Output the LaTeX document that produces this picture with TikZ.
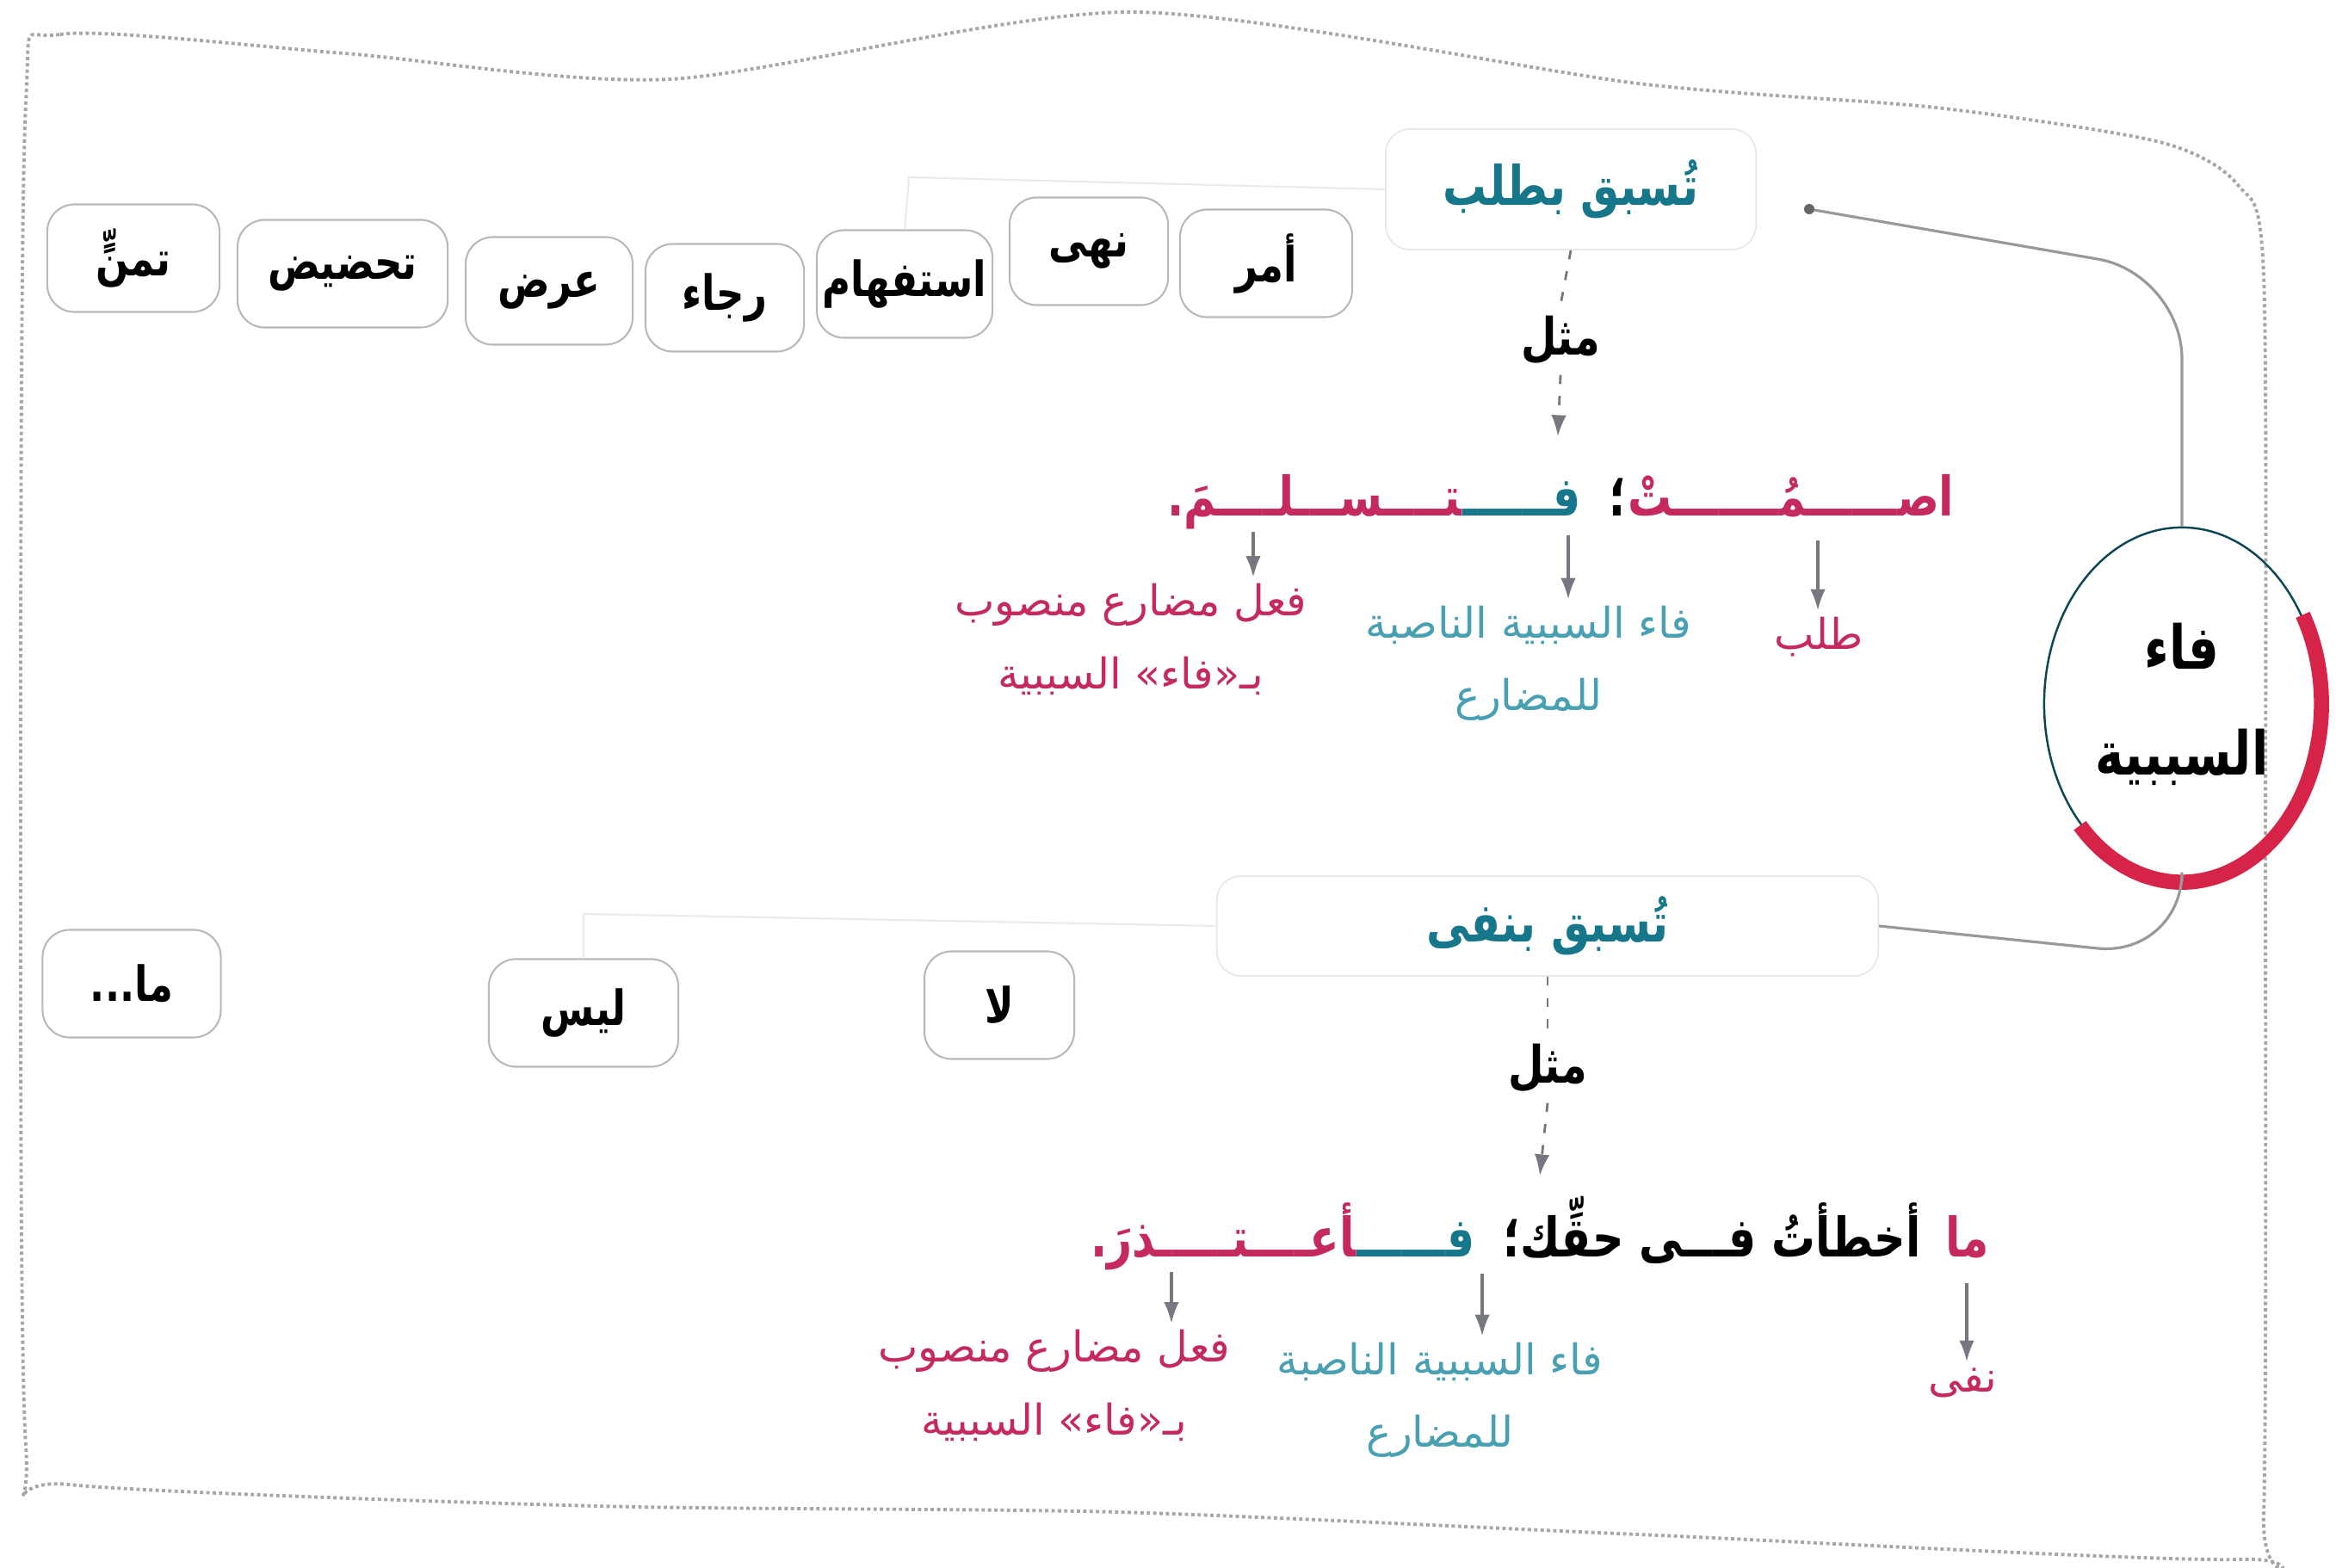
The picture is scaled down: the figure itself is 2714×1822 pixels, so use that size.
\documentclass[tikz,border=0pt]{standalone}
\usepackage{graphicx}
\usepackage{fontspec}
\usetikzlibrary{arrows.meta,shapes.geometric}
\newfontfamily\arabicfont[Script=Arabic]{DejaVu Sans}
\TeXXeTstate=1

\definecolor{tealA}{RGB}{22,118,138}
\definecolor{tealB}{RGB}{72,160,178}
\definecolor{rose}{RGB}{196,42,96}
\definecolor{redband}{RGB}{214,36,72}
\definecolor{arrgray}{RGB}{118,120,128}

% narrow arabic lettering
\newcommand\squeeze[1]{\scalebox{0.8}[1]{#1}}

\tikzset{
  item/.style={draw=gray!55,line width=0.6pt,rounded corners=9pt,minimum height=1.25cm,inner sep=0pt,
    font=\arabicfont\bfseries\fontsize{16}{18}\selectfont},
  head/.style={draw=gray!18,line width=0.5pt,rounded corners=8pt,text=tealA,
    font=\arabicfont\bfseries\fontsize{18}{20}\selectfont},
  mthl/.style={font=\arabicfont\bfseries\fontsize{17}{20}\selectfont},
  sent/.style={inner sep=0pt,anchor=base east,font=\arabicfont\bfseries\fontsize{18}{22}\selectfont},
  lbl/.style={align=center,inner sep=2pt,font=\arabicfont\fontsize{14}{24}\selectfont},
  arr/.style={arrgray,line width=0.9pt,-{Latex[length=7pt,width=5pt]}},
  dashlink/.style={arrgray,line width=0.8pt,dash pattern=on 3pt off 4pt},
  link/.style={gray!80,line width=0.9pt},
  faint/.style={gray!16,line width=0.6pt}
}

\begin{document}
\begin{tikzpicture}[x=0.01cm,y=-0.01cm]
\fill[white] (0,0) rectangle (2714,1822);
\useasboundingbox (0,0) rectangle (2714,1822);

% outer frame
\draw[gray!70,line width=1.1pt,densely dotted] plot[smooth cycle,tension=0.45] coordinates {
  (30,120) (70,40) (400,62) (779,92) (1315,14) (1903,97) (2249,125) (2509,165) (2600,215)
  (2630,320) (2632,1000) (2630,1760) (2605,1812) (1903,1783) (1298,1757) (692,1750)
  (80,1725) (30,1680) (24,900)};

% faa al-sababiyya
\node[ellipse,draw=tealA!60!black,line width=0.7pt,minimum width=3.2cm,minimum height=4.1cm,inner sep=0pt]
  (fs) at (2535,818) {};
\node[align=center,font=\arabicfont\bfseries\fontsize{20}{35}\selectfont] (fst) at (fs.center)
  {\squeeze{\beginR فاء\endR}\\\squeeze{\beginR السببية\endR}};
\begin{scope}[shift={(fs.center)},x=1cm,y=1cm]
\draw[redband,line width=5pt] (30:1.62 and 2.07) arc[start angle=30,end angle=-137,x radius=1.62,y radius=2.07];
\end{scope}

% headings
\node[head,minimum width=4.3cm,minimum height=1.4cm] (tlb) at (1825,220) {\squeeze{\beginR تُسبق بطلب\endR}};
\node[head,minimum width=7.68cm,minimum height=1.16cm] (nfy) at (1798,1076) {\squeeze{\beginR تُسبق بنفى\endR}};

\coordinate (dotA) at (2102,243);
\coordinate (k1) at (2535,318);
\coordinate (k2) at (2535,1112);
\draw[link,rounded corners=28] (dotA) -- (k1) -- (fs.north);
\draw[link,rounded corners=28] (fs.south) -- (k2) -- (nfy.east);
\fill[gray!80!black] (dotA) circle (6);

% talab items
\node[item,minimum width=2.0cm]  (amr)   at (1471,306) {\squeeze{\beginR أمر\endR}};
\node[item,minimum width=1.84cm] (nahy)  at (1265,292) {\squeeze{\beginR نهى\endR}};
\node[item,minimum width=2.04cm] (istf)  at (1051,330) {\squeeze{\beginR استفهام\endR}};
\node[item,minimum width=1.84cm] (raja)  at (842,346)  {\squeeze{\beginR رجاء\endR}};
\node[item,minimum width=1.94cm] (ard)   at (638,338)  {\squeeze{\beginR عرض\endR}};
\node[item,minimum width=2.44cm] (tahd)  at (398,318)  {\squeeze{\beginR تحضيض\endR}};
\node[item,minimum width=2.0cm]  (taman) at (155,300)  {\squeeze{\beginR تمنٍّ\endR}};

% nafy items
\node[item,minimum width=1.74cm] (laa)  at (1161,1168) {\squeeze{\beginR لا\endR}};
\node[item,minimum width=2.2cm]  (lays) at (678,1177)  {\squeeze{\beginR ليس\endR}};
\node[item,minimum width=2.07cm] (maa)  at (153,1143)  {\squeeze{\beginR ما...\endR}};

\coordinate (q1) at (1056,206);
\coordinate (q2) at (678,1062);
\draw[faint] (tlb.west) -- (q1) -- (istf.north);
\draw[faint] (nfy.west) -- (q2) -- (lays.north);

% first example
\node[mthl] (m1) at (1813,395) {\squeeze{\beginR مثل\endR}};
\coordinate (t1) at (1810,507);
\draw[dashlink] (tlb.south) -- (m1.north);
\draw[dashlink,-{Latex[length=7pt,width=5pt]}] (m1.south) -- (t1);

\node[sent,text=rose]  (s1a) at (2271,600) {\squeeze{اصــــــمُـــــــتْ}};
\node[sent]            (s1b) at (s1a.base west) {\squeeze{؛}};
\node[sent,text=tealA] (s1c) at ([xshift=-9pt]s1b.base west) {\squeeze{فــــــ}};
\node[sent,text=rose]  (s1d) at (s1c.base west) {\squeeze{^^^^200dتــــســـلــــمَ.}};

\coordinate (a1) at (2112,628);
\coordinate (a2) at (1822,622);
\coordinate (a3) at (1456,618);
\node[lbl,text=rose]  (l1) at (2113,740) {\beginR طلب\endR};
\node[lbl,text=tealB] (l2) at (1776,771) {\beginR فاء السببية الناصبة\endR\\\beginR للمضارع\endR};
\node[lbl,text=rose]  (l3) at (1314,743) {\beginR فعل مضارع منصوب\endR\\\beginR بـ«فاء» السببية\endR};
\draw[arr] (a1) -- (a1 |- l1.north);
\draw[arr] (a2) -- (a2 |- l2.north);
\draw[arr] (a3) -- (a3 |- l3.north);

% second example
\node[mthl] (m2) at (1798,1241) {\squeeze{\beginR مثل\endR}};
\coordinate (t2) at (1789,1366);
\draw[dashlink] (nfy.south) -- (m2.north);
\draw[dashlink,-{Latex[length=7pt,width=5pt]}] (m2.south) -- (t2);

\node[sent,text=rose]  (s2a) at (2312,1460) {\squeeze{ما}};
\node[sent]            (s2b) at ([xshift=-8pt]s2a.base west) {\squeeze{\beginR أخطأتُ فـــى حقِّك؛\endR}};
\node[sent,text=tealA] (s2c) at ([xshift=-9pt]s2b.base west) {\squeeze{فــــــ}};
\node[sent,text=rose]  (s2d) at (s2c.base west) {\squeeze{^^^^200dأعــــتـــــذرَ.}};

\coordinate (b1) at (2285,1491);
\coordinate (b2) at (1722,1480);
\coordinate (b3) at (1361,1478);
\node[lbl,text=rose]  (n1) at (2280,1607) {\beginR نفى\endR};
\node[lbl,text=tealB] (n2) at (1673,1627) {\beginR فاء السببية الناصبة\endR\\\beginR للمضارع\endR};
\node[lbl,text=rose]  (n3) at (1225,1610) {\beginR فعل مضارع منصوب\endR\\\beginR بـ«فاء» السببية\endR};
\draw[arr] (b1) -- (b1 |- n1.north);
\draw[arr] (b2) -- (b2 |- n2.north);
\draw[arr] (b3) -- (b3 |- n3.north);

\end{tikzpicture}
\end{document}
